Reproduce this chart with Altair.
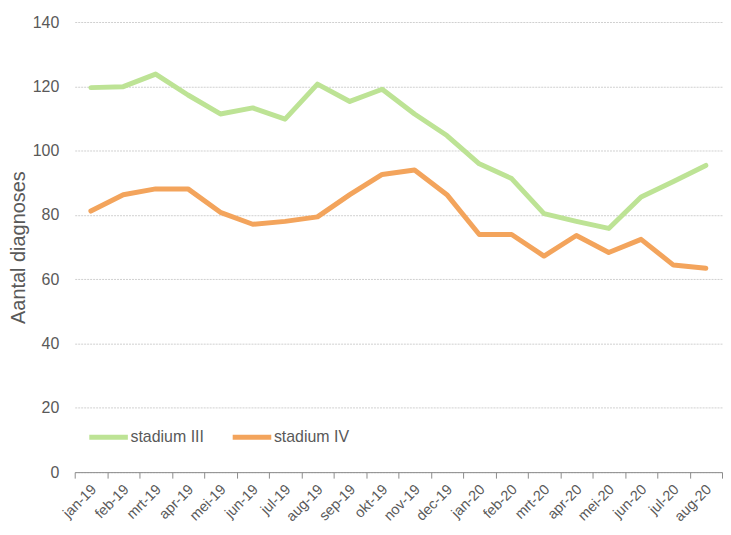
import altair as alt
import pandas as pd

months = ["jan-19", "feb-19", "mrt-19", "apr-19", "mei-19", "jun-19", "jul-19", "aug-19",
          "sep-19", "okt-19", "nov-19", "dec-19", "jan-20", "feb-20", "mrt-20", "apr-20",
          "mei-20", "jun-20", "jul-20", "aug-20"]
stadium_iii = [119.6, 119.9, 123.8, 117.3, 111.4, 113.3, 109.8, 120.7, 115.3, 119.1,
               111.4, 104.7, 95.9, 91.3, 80.4, 78.0, 75.8, 85.6, 90.4, 95.4]
stadium_iv = [81.2, 86.3, 88.1, 88.1, 80.8, 77.1, 78.0, 79.4, 86.3, 92.6,
              94.0, 86.3, 73.9, 73.9, 67.2, 73.6, 68.3, 72.4, 64.4, 63.4]
series = ["stadium III", "stadium IV"]
colors = ["#bde395", "#f3a45c"]

rows = []
for i, m in enumerate(months):
    rows.append({"maand": m, "reeks": series[0], "waarde": stadium_iii[i], "i": i})
    rows.append({"maand": m, "reeks": series[1], "waarde": stadium_iv[i], "i": i})
df = pd.DataFrame(rows)

font = "Liberation Sans"
gray = "#595959"

chart = alt.Chart(df).mark_line(strokeWidth=5, strokeJoin="round", strokeCap="round").encode(
    x=alt.X("maand:N", sort=months,
            scale=alt.Scale(paddingInner=0, paddingOuter=0),
            axis=alt.Axis(title=None, labelAngle=-45, labelAlign="right", labelBaseline="middle",
                          labelFontSize=14.5, labelColor=gray, labelFont=font,
                          tickBand="extent", tickSize=6, tickColor="#8c8c8c",
                          domainColor="#8c8c8c", labelPadding=9, grid=False,
                          labelOffset=3)),
    y=alt.Y("waarde:Q", scale=alt.Scale(domain=[0, 140]),
            axis=alt.Axis(title="Aantal diagnoses", values=[0, 20, 40, 60, 80, 100, 120, 140],
                          titleFontSize=20, titleFontWeight="normal", titleColor=gray,
                          titleFont=font, labelFontSize=16, labelColor=gray, labelFont=font,
                          labelPadding=16, titlePadding=4, ticks=False, domain=False,
                          grid=True, gridColor="#d0d0d0", gridDash=[2, 1])),
    color=alt.Color("reeks:N", scale=alt.Scale(domain=series, range=colors),
                    legend=alt.Legend(title=None, orient="none", direction="horizontal",
                                      legendX=12, legendY=395, symbolType="stroke",
                                      symbolStrokeWidth=5, symbolSize=1500,
                                      labelFontSize=16, labelColor=gray, labelFont=font,
                                      labelOffset=0, columnPadding=18)),
    order="i:Q",
).properties(
    width=650, height=452,
    padding={"left": 0, "top": 5, "right": 0, "bottom": 0},
).configure_view(stroke=None)

chart.save("out.html", embed_options={"renderer": "svg", "actions": False})
